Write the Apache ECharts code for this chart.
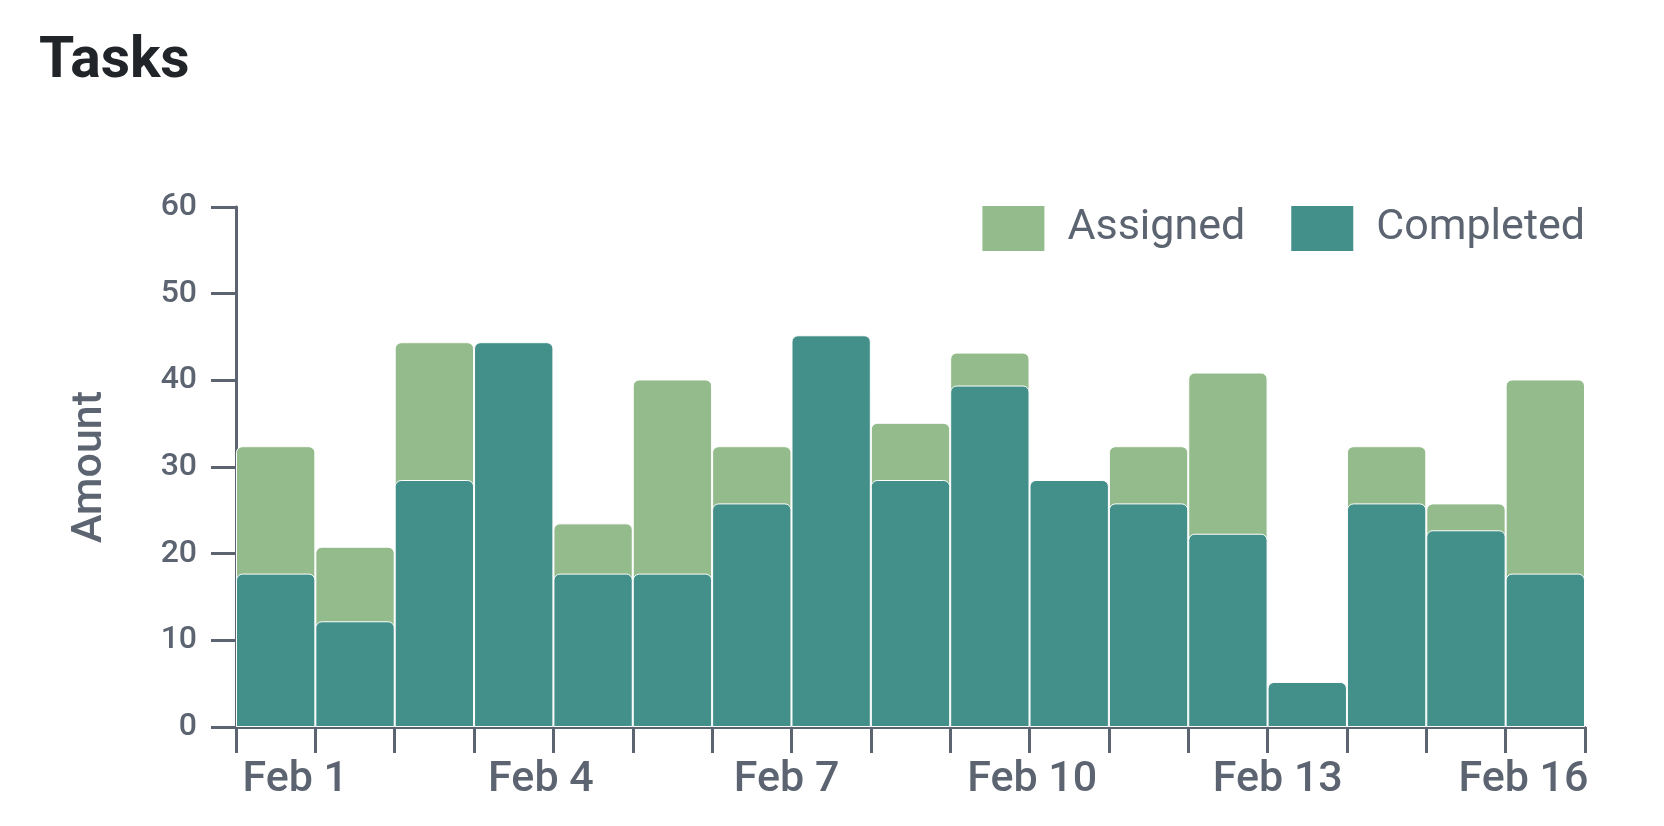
<!DOCTYPE html>
<html lang="en">

<head>
  <meta charset='utf-8'>
  <title>Tasks</title>
  <style>
    html, body { margin: 0; padding: 0; background: #fff; }
  </style>
</head>

<body>
  <div id="chart" style="width: 1664px;height:826px;"></div>
  <script src="https://cdn.jsdelivr.net/npm/echarts@6/dist/echarts.min.js"></script>
  <script type="text/javascript">
    // one bar per bin along the time axis
    var bins = ['1', '2', '3', '4', '5', '6', '7', '8', '9', '10', '11', '12', '13', '14', '15', '16', '17'];
    var assigned = [32.4, 20.8, 44.4, 44.4, 23.5, 40.1, 32.4, 39.0, 35.1, 43.2, 28.5, 32.4, 40.9, 5.2, 32.4, 25.8, 40.1];
    var completed = [17.7, 12.2, 28.5, 44.4, 17.7, 17.7, 25.8, 45.2, 28.5, 39.4, 28.5, 25.8, 22.3, 5.2, 25.8, 22.7, 17.7];
    // date labels on the day scale (day number in February)
    var tickDays = [1, 4, 7, 10, 13, 16];
    var tickLabels = ['Feb 1', 'Feb 4', 'Feb 7', 'Feb 10', 'Feb 13', 'Feb 16'];

    var axisColor = '#5b6470';
    var fontFamily = 'Roboto, "Noto Sans", sans-serif';

    var chart = echarts.init(document.getElementById('chart'));
    var option = {
      animation: false,
      title: {
        text: 'Tasks',
        left: 39,
        top: 34,
        padding: 0,
        textStyle: { fontFamily: fontFamily, fontSize: 57, fontWeight: 'bold', color: '#212428' }
      },
      legend: {
        right: 79,
        top: 204,
        padding: 0,
        itemWidth: 64,
        itemHeight: 47,
        itemGap: 44,
        icon: 'rect',
        textStyle: { fontFamily: fontFamily, fontSize: 43, color: axisColor, padding: [6, 0, 0, 17] },
        data: ['Assigned', 'Completed']
      },
      grid: {
        left: 236,
        right: 79,
        top: 207,
        bottom: 99,
        outerBoundsMode: 'none'
      },
      xAxis: [
        {
          type: 'category',
          data: bins,
          boundaryGap: true,
          axisLine: { lineStyle: { color: axisColor, width: 3 } },
          axisTick: { show: true, interval: 0, length: 26, lineStyle: { color: axisColor, width: 3 } },
          axisLabel: { show: false }
        },
        {
          type: 'value',
          position: 'bottom',
          min: 0.276,
          max: 16.752,
          axisLine: { show: false },
          axisTick: { show: false },
          splitLine: { show: false },
          axisLabel: {
            customValues: tickDays,
            margin: 32,
            fontFamily: fontFamily,
            fontSize: 43,
            fontWeight: 500,
            color: axisColor,
            formatter: function (v) {
              var i = tickDays.indexOf(Math.round(v));
              return i >= 0 ? tickLabels[i] : '';
            }
          }
        }
      ],
      yAxis: {
        type: 'value',
        min: 0,
        max: 60,
        interval: 10,
        name: 'Amount',
        nameLocation: 'middle',
        nameRotate: 90,
        nameGap: 124,
        nameTextStyle: { fontFamily: fontFamily, fontSize: 43, fontWeight: 500, color: axisColor },
        axisLine: { show: true, lineStyle: { color: axisColor, width: 3 } },
        axisTick: { show: true, length: 25, lineStyle: { color: axisColor, width: 3 } },
        splitLine: { show: false },
        axisLabel: { margin: 39, fontFamily: fontFamily, fontSize: 32, fontWeight: 500, color: axisColor }
      },
      series: [
        {
          name: 'Assigned',
          type: 'bar',
          xAxisIndex: 0,
          data: assigned,
          barCategoryGap: 0,
          barGap: '-100%',
          itemStyle: { color: '#94bb8c', borderColor: '#fff', borderWidth: 1, borderRadius: [6, 6, 0, 0] }
        },
        {
          name: 'Completed',
          type: 'bar',
          xAxisIndex: 0,
          data: completed,
          barCategoryGap: 0,
          barGap: '-100%',
          itemStyle: { color: '#438f89', borderColor: '#fff', borderWidth: 1, borderRadius: [6, 6, 0, 0] }
        }
      ]
    };
    chart.setOption(option);
  </script>
</body>

</html>
